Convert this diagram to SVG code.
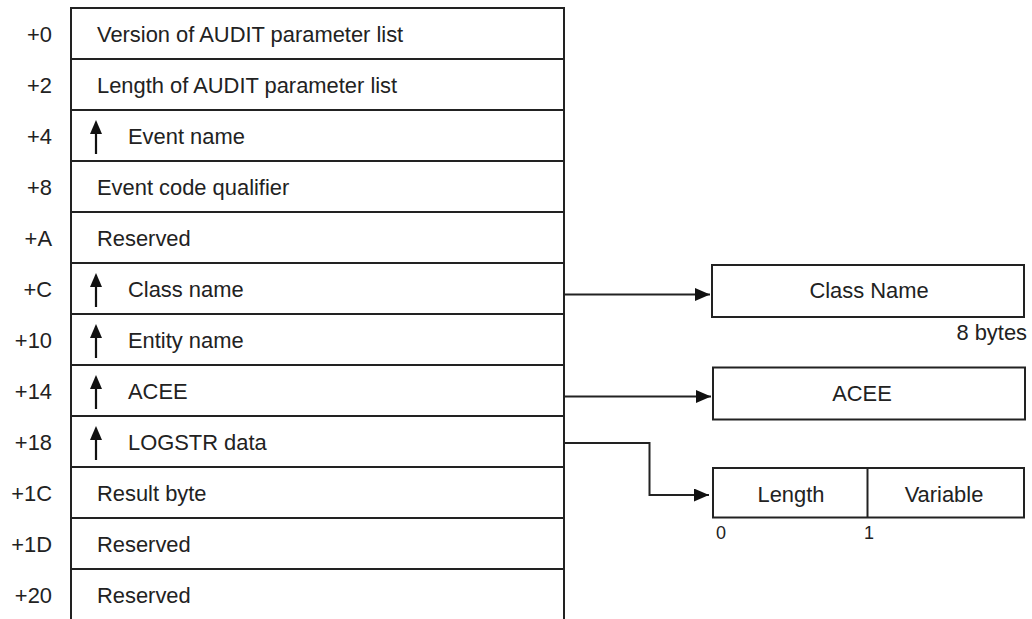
<svg xmlns="http://www.w3.org/2000/svg" width="1032" height="619" viewBox="0 0 1032 619">
<style>
text{font-family:"Liberation Sans",Arial,sans-serif;font-size:21.9px;fill:#222}
.off{text-anchor:end}
.mid{text-anchor:middle}
.small{font-size:18px}
.ln{stroke:#222;stroke-width:2;fill:none}
.box{stroke:#222;stroke-width:2;fill:#fff}
.ptr{fill:#111}
</style>
<defs>
<marker id="ah" viewBox="0 0 15 13" refX="15" refY="6.5" markerWidth="15" markerHeight="13" markerUnits="userSpaceOnUse" orient="auto">
<path d="M0,0 L15,6.5 L0,13 Z" fill="#111"/>
</marker>
<g id="uparrow"><path d="M0,0 L6,14 L-6,14 Z" class="ptr"/><rect x="-1.1" y="12" width="2.2" height="22" class="ptr"/></g>
</defs>
<g id="table">
<path class="ln" d="M71,619 V8 H564 V619"/>
<path class="ln" d="M71,59 H564 M71,110 H564 M71,161 H564 M71,212 H564 M71,263 H564 M71,314 H564 M71,365 H564 M71,416 H564 M71,467 H564 M71,518 H564 M71,569 H564"/>
</g>
<g id="offsets">
<text class="off" x="52" y="42">+0</text>
<text class="off" x="52" y="93">+2</text>
<text class="off" x="52" y="144">+4</text>
<text class="off" x="52" y="195">+8</text>
<text class="off" x="52" y="246">+A</text>
<text class="off" x="52" y="297">+C</text>
<text class="off" x="52" y="348">+10</text>
<text class="off" x="52" y="399">+14</text>
<text class="off" x="52" y="450">+18</text>
<text class="off" x="52" y="501">+1C</text>
<text class="off" x="52" y="552">+1D</text>
<text class="off" x="52" y="603">+20</text>
</g>
<g id="row-version"><text x="97" y="41.5">Version of AUDIT parameter list</text></g>
<g id="row-length"><text x="97" y="92.5">Length of AUDIT parameter list</text></g>
<g id="row-event-name"><use href="#uparrow" x="96" y="120"/><text x="128" y="143.5">Event name</text></g>
<g id="row-event-code"><text x="97" y="194.5">Event code qualifier</text></g>
<g id="row-reserved-a"><text x="97" y="245.5">Reserved</text></g>
<g id="row-class-name"><use href="#uparrow" x="96" y="273"/><text x="128" y="296.5">Class name</text></g>
<g id="row-entity-name"><use href="#uparrow" x="96" y="324"/><text x="128" y="347.5">Entity name</text></g>
<g id="row-acee"><use href="#uparrow" x="96" y="375"/><text x="128" y="398.5">ACEE</text></g>
<g id="row-logstr"><use href="#uparrow" x="96" y="426"/><text x="128" y="449.5">LOGSTR data</text></g>
<g id="row-result"><text x="97" y="500.5">Result byte</text></g>
<g id="row-reserved-1d"><text x="97" y="551.5">Reserved</text></g>
<g id="row-reserved-20"><text x="97" y="602.5">Reserved</text></g>
<g id="connectors">
<path class="ln" d="M564,294.5 H710" marker-end="url(#ah)"/>
<path class="ln" d="M564,396.5 H711" marker-end="url(#ah)"/>
<path class="ln" d="M564,443 H649.5 V495 H709" marker-end="url(#ah)"/>
</g>
<g id="class-name-box">
<rect class="box" x="712" y="265" width="312" height="52"/>
<text class="mid" x="869" y="298">Class Name</text>
<text class="off" x="1027" y="340">8 bytes</text>
</g>
<g id="acee-box">
<rect class="box" x="713" y="367.5" width="312" height="52"/>
<text class="mid" x="862" y="401">ACEE</text>
</g>
<g id="logstr-box">
<rect class="box" x="713" y="468" width="311" height="49.5"/>
<path class="ln" d="M867.5,468 V517.5"/>
<text class="mid" x="791" y="502">Length</text>
<text class="mid" x="944" y="502">Variable</text>
<text class="small" x="716" y="539">0</text>
<text class="small" x="864" y="539">1</text>
</g>
</svg>
